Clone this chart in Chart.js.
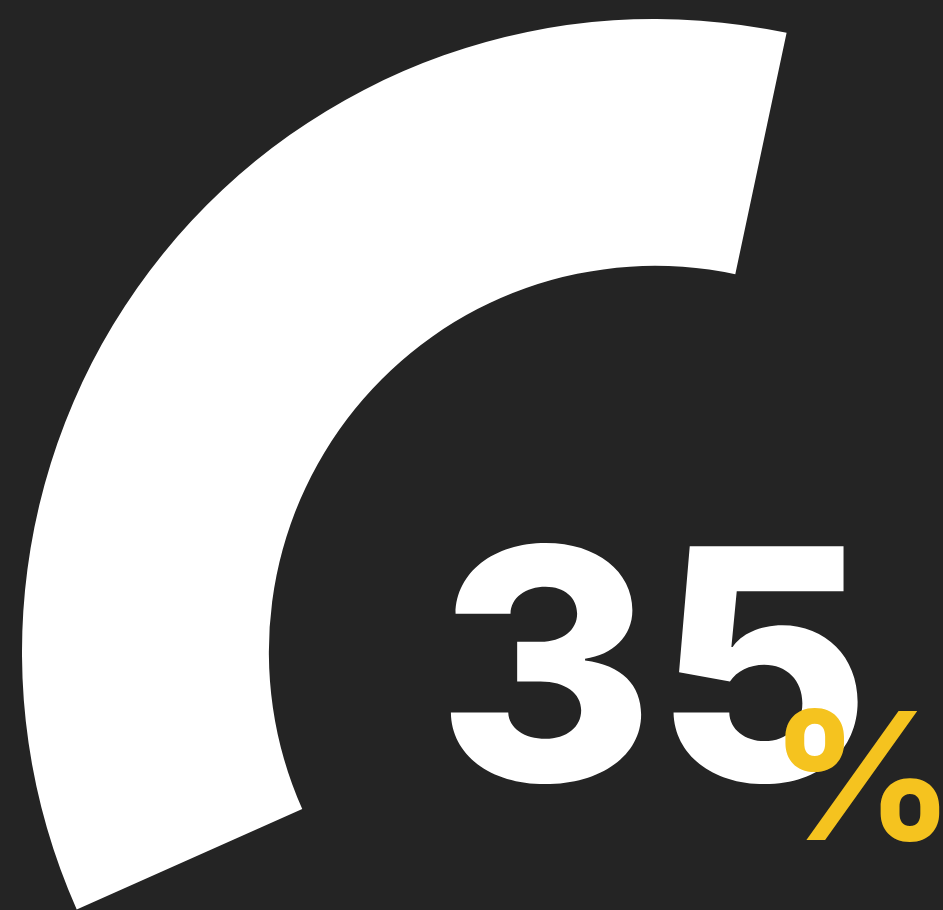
<!DOCTYPE html>
<html>
<head>
<meta charset="utf-8">
<title>35%</title>
<script src="https://cdn.jsdelivr.net/npm/chart.js@4/dist/chart.umd.min.js"></script>
<style>
  html, body { margin: 0; padding: 0; width: 943px; height: 910px; overflow: hidden; background: #242424; }
  #wrap { position: absolute; left: 22px; top: 19px; width: 1266px; height: 1266px; }
</style>
</head>
<body>
<div id="wrap"><canvas id="gauge" width="1266" height="1266"></canvas></div>
<script>
// Ring data: highlighted share and the rest of the circle
const labels = ['Share', 'Remaining'];
const values = [35, 65];
const sliceColors = ['#ffffff', 'rgba(0,0,0,0)'];
const valueText = String(values[0]);
const unitText = '%';

// Canvas offset inside the page, used to place the labels in page coordinates
const OFFSET_X = 22, OFFSET_Y = 19;

// Draw a string so that its ink box fills the given rectangle
function fitText(ctx, text, font, color, left, top, right, bottom) {
  ctx.save();
  ctx.font = font;
  ctx.textBaseline = 'alphabetic';
  ctx.textAlign = 'left';
  const m = ctx.measureText(text);
  const w = m.actualBoundingBoxLeft + m.actualBoundingBoxRight;
  const h = m.actualBoundingBoxAscent + m.actualBoundingBoxDescent;
  const sx = (right - left) / w;
  const sy = (bottom - top) / h;
  ctx.translate(left - OFFSET_X, top - OFFSET_Y);
  ctx.scale(sx, sy);
  ctx.fillStyle = color;
  ctx.fillText(text, m.actualBoundingBoxLeft, m.actualBoundingBoxAscent);
  ctx.restore();
}

const centerLabel = {
  id: 'centerLabel',
  afterDraw(chart) {
    const ctx = chart.ctx;
    fitText(ctx, valueText, '800 300px Inter', '#ffffff', 447, 539, 862, 786);
    fitText(ctx, unitText, '700 170px Inter', '#f5c31f', 785, 708, 940, 843);
  }
};

new Chart(document.getElementById('gauge'), {
  type: 'doughnut',
  data: {
    labels: labels,
    datasets: [{
      data: values,
      backgroundColor: sliceColors,
      borderWidth: 0,
      hoverOffset: 0
    }]
  },
  options: {
    responsive: false,
    animation: false,
    rotation: 246,
    cutout: '61%',
    layout: { padding: 0 },
    plugins: {
      legend: { display: false },
      tooltip: { enabled: false }
    },
    events: []
  },
  plugins: [centerLabel]
});
</script>
</body>
</html>
